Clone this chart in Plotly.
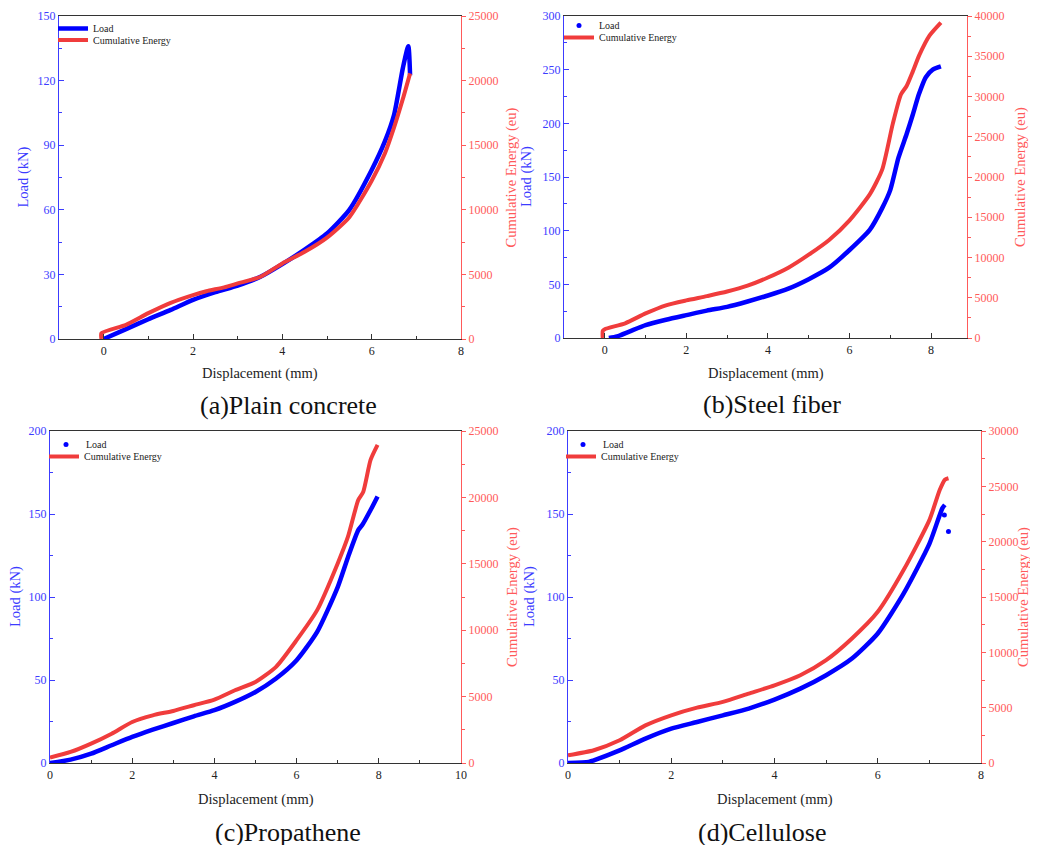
import plotly.graph_objects as go

W, H = 1038, 845
OFF = 8  # page body margin of the viewer; coordinates below are reference-picture pixels

# ---------------- data ----------------
# (a) Plain concrete
a_load_disp = [0, 0.5, 1, 1.5, 2, 2.5, 3, 3.5, 4, 4.5, 5, 5.5, 6, 6.3, 6.5, 6.7, 6.82, 6.86]
a_load = [0, 4.6, 9.2, 13.5, 18.2, 21.8, 24.8, 28.8, 34.8, 41.5, 49, 60, 78.5, 92, 104, 126, 136, 122.5]
a_energy_disp = [-0.05, -0.05, 0.5, 1, 1.5, 2, 2.3, 2.7, 3, 3.5, 4, 4.5, 5, 5.5, 6, 6.3, 6.5, 6.7, 6.86]
a_energy = [0, 450, 1100, 2000, 2800, 3400, 3700, 4000, 4300, 4800, 5850, 6750, 7850, 9430, 12250, 14400, 16360, 18600, 20560]

# (b) Steel fiber
b_load_disp = [0.1, 0.3, 0.6, 1, 1.5, 2, 2.5, 3, 3.5, 4, 4.5, 5, 5.5, 6, 6.5, 6.8, 7, 7.2, 7.4, 7.55, 7.7, 7.87, 8.04, 8.24]
b_load = [0, 1.5, 6, 12, 17, 21.3, 25.5, 29, 34, 39.6, 46, 54.8, 65.5, 82, 101, 121, 138, 168, 190, 208, 227, 243, 250, 253]
b_energy_disp = [-0.05, -0.05, 0, 0.5, 1, 1.5, 2, 2.5, 3, 3.5, 4, 4.5, 5, 5.5, 6, 6.5, 6.8, 7.06, 7.26, 7.4, 7.55, 7.71, 7.96, 8.24]
b_energy = [0, 900, 1100, 1830, 3050, 4060, 4670, 5200, 5770, 6500, 7510, 8730, 10350, 12180, 14620, 17870, 20910, 26600, 30250, 31300, 33090, 35130, 37560, 39180]

# (c) Propathene
c_load_disp = [0, 0.5, 1, 1.5, 2, 2.5, 3, 3.5, 4, 4.5, 5, 5.5, 6, 6.5, 7, 7.25, 7.5, 7.6, 7.8, 7.97]
c_load = [0, 2, 5.6, 10.7, 15.7, 20.1, 24.1, 28.1, 31.8, 36.8, 42.8, 50.9, 61.9, 79, 106, 124, 140.3, 143.5, 152.4, 160.6]
c_energy_disp = [0, 0.5, 1, 1.5, 2, 2.5, 3, 3.5, 4, 4.5, 5, 5.5, 6, 6.5, 7, 7.25, 7.5, 7.62, 7.8, 7.97]
c_energy = [400, 830, 1460, 2210, 3090, 3590, 3920, 4350, 4775, 5480, 6100, 7240, 9250, 11510, 15030, 17040, 19800, 20400, 22820, 23950]

# (d) Cellulose
d_load_disp = [0, 0.4, 0.5, 1, 1.5, 2, 2.5, 3, 3.5, 4, 4.5, 5, 5.5, 6, 6.5, 7, 7.25, 7.3]
d_load = [0, 0.6, 1.6, 7.6, 14.7, 20.7, 24.7, 28.7, 32.8, 38.2, 44.8, 52.9, 62.9, 78, 102, 132, 153.4, 155.5]
d_tail_disp = [7.29, 7.37]
d_tail_load = [149.4, 139.4]
d_energy_disp = [0, 0.5, 1, 1.5, 2, 2.5, 3, 3.5, 4, 4.5, 5, 5.5, 6, 6.5, 7, 7.2, 7.3, 7.37]
d_energy = [690, 1150, 2050, 3400, 4310, 5000, 5520, 6270, 7020, 7930, 9290, 11250, 13660, 17430, 21950, 24660, 25600, 25730]

captions = ["(a)Plain concrete", "(b)Steel fiber", "(c)Propathene", "(d)Cellulose"]

# ---------------- layout helpers ----------------
def px(x):
    return (x - OFF) / W

def py(y):
    return 1 - (y - OFF) / H

SERIF = "'Liberation Serif', 'Times New Roman', Times, serif"
BLUE = "#0000ff"
RED = "#f03c3c"
AX_BLUE = "#3c3cff"
AX_RED = "#ff5a5a"
LEG_OFF = 15  # legend top -> row centre (px)

fig = go.Figure()

panels = [
    dict(x=(59, 461), y=(16, 339), xr=[-1, 8], lr=[0, 150], ldt=30, er=[0, 25000],
         ld=(a_load_disp, a_load), ed=(a_energy_disp, a_energy), dotlegend=False,
         legx=(53, 53), legy=(29, 40.5), cap=(288, 405), xt=373,
         ltitles=[("Load (kN)", 23, AX_BLUE)], rt=511),
    dict(x=(564, 967), y=(16, 338), xr=[-1, 8.88], lr=[0, 300], ldt=50, er=[0, 40000],
         ld=(b_load_disp, b_load), ed=(b_energy_disp, b_energy), dotlegend=True,
         legx=(559, 559), legy=(26, 38), cap=(772, 404), xt=374,
         ltitles=[("Load (kN)", 527, AX_BLUE)], rt=1021),
    dict(x=(50, 461), y=(431, 763), xr=[0, 10], lr=[0, 200], ldt=50, er=[0, 25000],
         ld=(c_load_disp, c_load), ed=(c_energy_disp, c_energy), dotlegend=True,
         legx=(46, 44), legy=(445, 457), cap=(288, 832), xt=799,
         ltitles=[("Load (kN)", 15, AX_BLUE)], rt=512),
    dict(x=(568, 981), y=(431, 763), xr=[0, 8], lr=[0, 200], ldt=50, er=[0, 30000],
         ld=(d_load_disp, d_load), ed=(d_energy_disp, d_energy), dotlegend=True,
         legx=(563, 561), legy=(445, 457), cap=(762, 832), xt=799,
         ltitles=[("Load (kN)", 529, AX_BLUE)], rt=1023),
]

annotations = []
layout_upd = {}
for i, p in enumerate(panels):
    n = i + 1
    xa = "x" if n == 1 else f"x{n}"
    yl_n = 2 * n - 1
    yr_n = 2 * n
    yl = "y" if yl_n == 1 else f"y{yl_n}"
    yr = f"y{yr_n}"
    leg_load = "legend" if n == 1 else f"legend{2 * n - 1}"
    leg_en = f"legend{2 * n}"

    fig.add_trace(go.Scatter(
        x=p["ld"][0], y=p["ld"][1], xaxis=xa, yaxis=yl, mode="lines",
        line=dict(color=BLUE, width=4.5, shape="spline", smoothing=0.6),
        name="Load", legend=leg_load, showlegend=not p["dotlegend"]))
    if p["dotlegend"]:
        fig.add_trace(go.Scatter(
            x=[None], y=[None], xaxis=xa, yaxis=yl, mode="markers",
            marker=dict(color=BLUE, size=5), name="Load", legend=leg_load))
    if n == 4:
        fig.add_trace(go.Scatter(
            x=d_tail_disp, y=d_tail_load, xaxis=xa, yaxis=yl, mode="markers",
            marker=dict(color=BLUE, size=5), showlegend=False))
    fig.add_trace(go.Scatter(
        x=p["ed"][0], y=p["ed"][1], xaxis=xa, yaxis=yr, mode="lines",
        line=dict(color=RED, width=4, shape="spline", smoothing=0.6),
        name="Cumulative Energy", legend=leg_en))

    xdom = [px(p["x"][0]), px(p["x"][1])]
    ydom = [py(p["y"][1]), py(p["y"][0])]

    layout_upd[("xaxis" if n == 1 else f"xaxis{n}")] = dict(
        domain=xdom, anchor=yl, range=p["xr"], tick0=0, dtick=2, automargin=False,
        showline=True, linecolor="#333333", linewidth=1.3, mirror=True,
        ticks="inside", ticklen=5, tickcolor="#333333", tickwidth=1.2,
        minor=dict(dtick=1, tick0=0, ticks="inside", ticklen=3, tickcolor="#333333"),
        showgrid=False, zeroline=False, ticklabeloverflow="allow",
        tickfont=dict(family=SERIF, size=12, color="#222222"))
    layout_upd[("yaxis" if yl_n == 1 else f"yaxis{yl_n}")] = dict(
        domain=ydom, anchor=xa, range=p["lr"], dtick=p["ldt"], tick0=0, automargin=False,
        showline=True, linecolor=AX_BLUE, linewidth=1.3,
        ticks="inside", ticklen=5, tickcolor=AX_BLUE, tickwidth=1.2,
        minor=dict(dtick=p["ldt"] / 2, tick0=0, ticks="inside", ticklen=3, tickcolor=AX_BLUE),
        showgrid=False, zeroline=False, ticklabeloverflow="allow",
        tickfont=dict(family=SERIF, size=12, color=AX_BLUE))
    layout_upd[f"yaxis{yr_n}"] = dict(
        overlaying=yl, side="right", anchor=xa, range=p["er"], dtick=5000, tick0=0,
        automargin=False,
        showline=True, linecolor=AX_RED, linewidth=1.3,
        ticks="outside", ticklen=4, tickcolor=AX_RED, tickwidth=1.2,
        minor=dict(dtick=2500, tick0=0, ticks="outside", ticklen=3, tickcolor=AX_RED),
        showgrid=False, zeroline=False, tickformat="d", exponentformat="none",
        ticklabeloverflow="allow",
        tickfont=dict(family=SERIF, size=12, color=AX_RED))
    for lg, lx, ly in [(leg_load, p["legx"][0], p["legy"][0]),
                       (leg_en, p["legx"][1], p["legy"][1])]:
        layout_upd[lg] = dict(
            x=px(lx), y=py(ly - LEG_OFF), xanchor="left", yanchor="top",
            bgcolor="rgba(0,0,0,0)", borderwidth=0, itemwidth=30,
            font=dict(family=SERIF, size=10, color="#222222"),
            tracegroupgap=0, traceorder="normal")

    ymid = (p["y"][0] + p["y"][1]) / 2
    xmid = (p["x"][0] + p["x"][1]) / 2
    common = dict(xref="paper", yref="paper", showarrow=False,
                  xanchor="center", yanchor="middle")
    annotations.append(dict(text="Displacement (mm)", x=px(xmid), y=py(p["xt"]),
                            font=dict(family=SERIF, size=14.5, color="#222222"), **common))
    for t, tx, col in p["ltitles"]:
        annotations.append(dict(text=t, x=px(tx), y=py(ymid), textangle=-90,
                                font=dict(family=SERIF, size=14.5, color=col), **common))
    annotations.append(dict(text="Cumulative Energy (eu)", x=px(p["rt"]), y=py(ymid),
                            textangle=-90,
                            font=dict(family=SERIF, size=14.5, color=AX_RED), **common))
    annotations.append(dict(text=captions[i], x=px(p["cap"][0]), y=py(p["cap"][1]),
                            font=dict(family=SERIF, size=26, color="#111111"), **common))

fig.update_layout(
    width=W, height=H, margin=dict(l=0, r=0, t=0, b=0, autoexpand=False),
    paper_bgcolor="white", plot_bgcolor="white",
    annotations=annotations, showlegend=True,
    font=dict(family=SERIF),
    **layout_upd,
)

fig.write_html("out.html")
